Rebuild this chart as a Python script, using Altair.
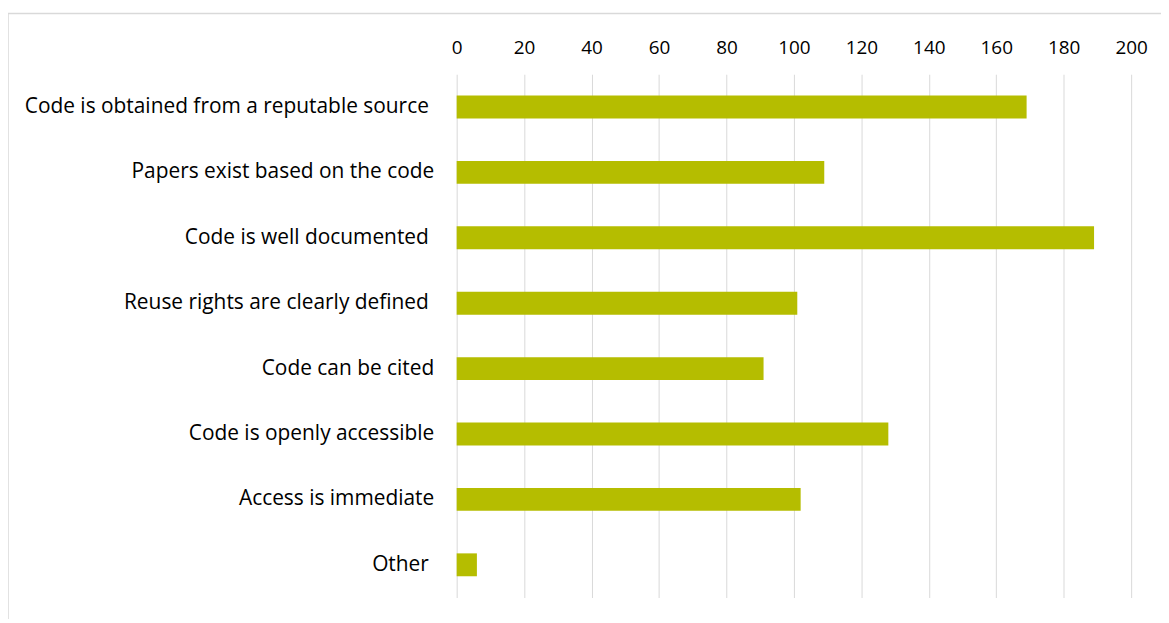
import altair as alt
import pandas as pd

SP = "\u00a0\u200b"
categories = [
    "Code is obtained from a reputable source" + SP,
    "Papers exist based on the code",
    "Code is well documented" + SP,
    "Reuse rights are clearly defined" + SP,
    "Code can be cited",
    "Code is openly accessible",
    "Access is immediate",
    "Other" + SP,
]
values = [169, 109, 189, 101, 91, 128, 102, 6]
x_ticks = [0, 20, 40, 60, 80, 100, 120, 140, 160, 180, 200]

df = pd.DataFrame({"label": categories, "count": values})

FONT = "Open Sans"

bars = alt.Chart(df).mark_bar(color="#B5BD00").encode(
    x=alt.X(
        "count:Q",
        scale=alt.Scale(domain=[0, 200], nice=False),
        axis=alt.Axis(
            orient="top",
            values=x_ticks,
            title=None,
            domain=False,
            ticks=False,
            grid=True,
            gridColor="#d9d9d9",
            gridWidth=1,
            labelFont=FONT,
            labelFontSize=19,
            labelColor="#000000",
            labelPadding=17,
            labelFlush=False,
            labelOverlap=False,
        ),
    ),
    y=alt.Y(
        "label:N",
        sort=categories,
        scale=alt.Scale(paddingInner=0.65, paddingOuter=0.325),
        axis=alt.Axis(
            title=None,
            domain=False,
            ticks=False,
            labelFont=FONT,
            labelFontSize=21,
            labelColor="#000000",
            labelPadding=23,
            labelLimit=0,
        ),
    ),
)

frame = alt.Chart(pd.DataFrame({"a": [0]})).mark_rect(
    fill=None, stroke="#d9d9d9", strokeWidth=1.5, clip=False
).encode(
    x=alt.value(-451),
    x2=alt.value(740),
    y=alt.value(-61),
    y2=alt.value(600),
)

chart = alt.layer(frame, bars).properties(
    width=678,
    height=526,
    autosize=alt.AutoSizeParams(type="none"),
    padding={"left": 451, "top": 65, "right": 30, "bottom": 20},
).configure_view(stroke=None)

chart.save("out.html", embed_options={"renderer": "svg", "actions": False})
